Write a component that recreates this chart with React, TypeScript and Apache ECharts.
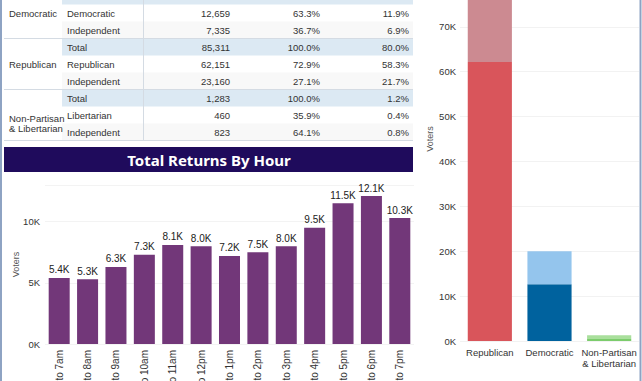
import React, { useEffect, useRef } from "react";
import * as echarts from "echarts";

// ---- Data ----
const hours = [
  "6am to 7am", "7am to 8am", "8am to 9am", "9am to 10am", "10am to 11am",
  "11am to 12pm", "12pm to 1pm", "1pm to 2pm", "2pm to 3pm", "3pm to 4pm",
  "4pm to 5pm", "5pm to 6pm", "6pm to 7pm",
];
const hourVoters = [5400, 5300, 6300, 7300, 8100, 8000, 7200, 7500, 8000, 9500, 11500, 12100, 10300];

const parties = ["Republican", "Democratic", "Non-Partisan\n& Libertarian"];
const partyVoters = [62151, 12659, 460];
const independentVoters = [23160, 7335, 823];

const tableGroups = ["Democratic", "Republican", "Non-Partisan\n& Libertarian"];
const tableGroupRow = [0, 3, 6.5];
const rowLabels = ["Democratic", "Independent", "Total", "Republican", "Independent", "Total", "Libertarian", "Independent"];
const rowCounts = [12659, 7335, 85311, 62151, 23160, 1283, 460, 823];
const rowGroupPct = [63.3, 36.7, 100.0, 72.9, 27.1, 100.0, 35.9, 64.1];
const rowTotalPct = [11.9, 6.9, 80.0, 58.3, 21.7, 1.2, 0.4, 0.8];

const FONT = "'Liberation Sans', Arial, sans-serif";
const TFONT = "'Noto Sans', 'DejaVu Sans', sans-serif";

export default function App() {
  const ref = useRef<HTMLDivElement>(null);
  useEffect(() => {
    if (!ref.current) return;
    const chart = echarts.init(ref.current, null, { renderer: "svg" });

    const rowY = (i: number) => 13 + i * 17;
    const graphics: any[] = [];
    graphics.push({ type: "rect", shape: { x: 62, y: 0, width: 351, height: 4.5 }, style: { fill: "#dce9f3" }, silent: true });
    rowLabels.forEach((lab, i) => {
      const y = rowY(i);
      if (lab === "Total") {
        graphics.push({ type: "rect", shape: { x: 62, y: y - 8.5, width: 351, height: 17 }, style: { fill: "#dce9f3" }, silent: true });
      } else if (lab === "Independent") {
        graphics.push({ type: "rect", shape: { x: 62, y: y - 8.5, width: 351, height: 17 }, style: { fill: "#f8f8f8" }, silent: true });
      }
    });
    [38.5, 89.5, 140.5].forEach((y) => {
      graphics.push({ type: "line", shape: { x1: 4, y1: y, x2: 413, y2: y }, style: { stroke: "#d4dbe3", lineWidth: 1 }, silent: true });
    });
    graphics.push({ type: "line", shape: { x1: 143.5, y1: 0, x2: 143.5, y2: 140 }, style: { stroke: "#d4dbe3", lineWidth: 1 }, silent: true });

    const tstyle = { fontFamily: FONT, fontSize: 9.5, fill: "#333" };
    rowLabels.forEach((lab, i) => {
      const y = rowY(i);
      graphics.push({ type: "text", x: 67, y, style: { ...tstyle, text: lab, verticalAlign: "middle" } });
      graphics.push({ type: "text", x: 230, y, style: { ...tstyle, text: rowCounts[i].toLocaleString("en-US"), align: "right", verticalAlign: "middle" } });
      graphics.push({ type: "text", x: 320, y, style: { ...tstyle, text: rowGroupPct[i].toFixed(1) + "%", align: "right", verticalAlign: "middle" } });
      graphics.push({ type: "text", x: 409, y, style: { ...tstyle, text: rowTotalPct[i].toFixed(1) + "%", align: "right", verticalAlign: "middle" } });
    });
    tableGroups.forEach((g, k) => {
      const y = rowY(tableGroupRow[k]);
      graphics.push({ type: "text", x: 9, y, style: { ...tstyle, text: g, verticalAlign: "middle", lineHeight: 10 } });
    });

    graphics.push({ type: "rect", shape: { x: 4, y: 147, width: 409, height: 25 }, style: { fill: "#1f0b5c" }, silent: true });
    graphics.push({ type: "text", x: 209, y: 160, style: { text: "Total Returns By Hour", fontFamily: TFONT, fontSize: 15, fontWeight: "bold", fill: "#ffffff", align: "center", verticalAlign: "middle" } });

    graphics.push({ type: "line", shape: { x1: 1, y1: 0, x2: 1, y2: 381 }, style: { stroke: "#8ea3c3", lineWidth: 2 }, silent: true });
    graphics.push({ type: "line", shape: { x1: 640.5, y1: 0, x2: 640.5, y2: 381 }, style: { stroke: "#8ea3c3", lineWidth: 2 }, silent: true });

    const kfmt = (v: number) => v / 1000 + "K";

    chart.setOption({
      animation: false,
      backgroundColor: "#ffffff",
      textStyle: { fontFamily: FONT },
      grid: [
        { left: 45, right: 228, top: 185, bottom: 37, outerBoundsMode: "none", containLabel: false },
        { left: 460, right: 3, top: -63, bottom: 40, outerBoundsMode: "none", containLabel: false },
      ],
      xAxis: [
        {
          type: "category", gridIndex: 0, data: hours,
          axisLine: { show: false }, axisTick: { show: false },
          axisLabel: { rotate: 90, margin: 6, fontSize: 10, color: "#333", fontFamily: FONT, interval: 0 },
        },
        {
          type: "category", gridIndex: 1, data: parties,
          axisLine: { show: false }, axisTick: { show: false },
          axisLabel: { margin: 6, fontSize: 9.5, color: "#333", fontFamily: FONT, interval: 0, lineHeight: 11 },
        },
      ],
      yAxis: [
        {
          type: "value", gridIndex: 0, min: 0, max: 13000, interval: 5000,
          name: "Voters", nameLocation: "middle", nameGap: 25, nameRotate: 90, nameMoveOverlap: false,
          nameTextStyle: { fontSize: 9, color: "#555", fontFamily: FONT },
          axisLabel: { formatter: kfmt, fontSize: 9.5, color: "#333", showMaxLabel: false, margin: 5, fontFamily: FONT },
          splitLine: { lineStyle: { color: "#f3f3f3" } },
        },
        {
          type: "value", gridIndex: 1, min: 0, max: 90000, interval: 10000,
          name: "Voters", nameLocation: "middle", nameGap: 26, nameRotate: 90, nameMoveOverlap: false,
          nameTextStyle: { fontSize: 9, color: "#555", fontFamily: FONT },
          axisLabel: { formatter: (v: number) => (v <= 70000 ? kfmt(v) : ""), fontSize: 9.5, color: "#333", margin: 4, fontFamily: FONT },
          splitLine: { lineStyle: { color: "#f2f2f2" } },
        },
      ],
      series: [
        {
          type: "bar", xAxisIndex: 0, yAxisIndex: 0, data: hourVoters,
          barCategoryGap: "26%",
          itemStyle: { color: "#723779" },
          label: {
            show: true, position: "top", distance: 3, fontSize: 10, color: "#222", fontFamily: FONT,
            formatter: (p: any) => (p.value / 1000).toFixed(1) + "K",
          },
        },
        {
          type: "bar", xAxisIndex: 1, yAxisIndex: 1, stack: "p", barCategoryGap: "26%",
          data: partyVoters.map((v, i) => ({ value: v, itemStyle: { color: ["#d9555b", "#00629e", "#7ccc6c"][i] } })),
        },
        {
          type: "bar", xAxisIndex: 1, yAxisIndex: 1, stack: "p", barCategoryGap: "26%",
          data: independentVoters.map((v, i) => ({ value: v, itemStyle: { color: ["#cc8a91", "#94c5ed", "#a9df9c"][i] } })),
        },
      ],
      graphic: graphics,
    });
    return () => chart.dispose();
  }, []);
  return <div ref={ref} style={{ position: "fixed", left: 0, top: 0, width: 642, height: 381 }} />;
}
